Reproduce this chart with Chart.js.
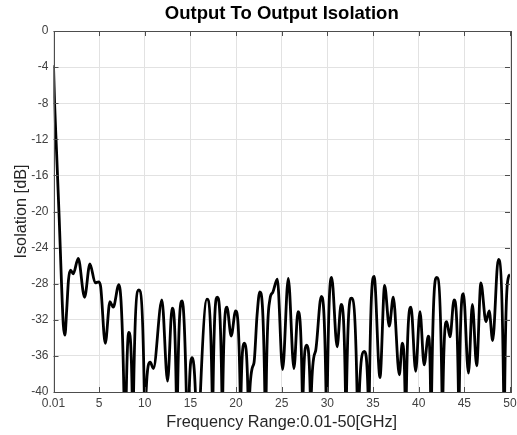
<!DOCTYPE html>
<html>
<head>
<meta charset="utf-8">
<script src="https://cdn.jsdelivr.net/npm/chart.js@4.4.0/dist/chart.umd.min.js"></script>
<style>
  html, body { margin: 0; padding: 0; background: #fff; }
  #wrap { width: 517px; height: 435px; }
</style>
</head>
<body>
<div id="wrap"><canvas id="isoChart" width="517" height="435"></canvas></div>
<script>
// values: frequency (GHz) and isolation (dB)
// -40 entries mark where the trace leaves the frame, -50 the nulls below it
const freqGHz = [
  0.01, 0.06, 0.13, 0.35, 0.64, 0.9, 1.08, 1.26, 1.45, 1.65, 1.88, 2.17, 2.72, 3.41, 4.0,
  4.58, 4.95, 5.17, 5.68, 6.19, 6.55, 7.17, 7.72, 7.85, 7.98, 8.25, 8.62, 8.7, 8.78, 9.36,
  9.95, 10.05, 10.15, 10.6, 10.95, 11.88, 12.5, 13.0, 13.45, 13.52, 13.6, 14.1, 14.55, 14.7, 14.87,
  15.2, 15.55, 15.8, 16.1, 16.82, 17.38, 17.43, 17.48, 17.94, 18.45, 18.5, 18.55, 19.0, 19.47, 19.95,
  20.45, 20.5, 20.55, 20.9, 21.3, 21.4, 21.5, 21.96, 22.3, 22.6, 23.15, 23.22, 23.3, 23.7, 24.0,
  24.52, 25.1, 25.72, 26.34, 26.78, 27.25, 27.3, 27.35, 27.73, 28.12, 28.18, 28.25, 28.7, 29.33, 29.85,
  29.92, 30.0, 30.47, 31.07, 31.5, 31.98, 32.04, 32.1, 32.63, 33.25, 33.35, 33.5, 34.05, 34.45, 34.55,
  34.6, 35.12, 35.76, 36.27, 36.78, 37.22, 37.88, 38.2, 38.5, 38.57, 38.65, 39.16, 39.67, 40.14, 40.6,
  41.05, 41.3, 41.35, 41.42, 41.98, 42.55, 42.6, 42.66, 43.07, 43.43, 43.87, 44.35, 44.4, 44.45, 44.9,
  45.45, 45.88, 46.35, 46.81, 47.37, 47.72, 48.1, 48.72, 49.3, 49.36, 49.42, 49.8, 50
];
const isolationDb = [
  -3.8, -5.6, -8, -13.5, -20.9, -28.3, -32.5, -33.7, -31, -27.6, -26.5, -26.9, -25.2, -29.5, -25.8,
  -27.9, -27.8, -28.3, -34.6, -30.0, -30.6, -28.1, -40, -50, -40, -33.4, -40, -50, -40, -28.7,
  -40, -50, -40, -36.7, -37.4, -29.8, -38.8, -30.7, -40, -50, -40, -29.9, -40, -50, -40,
  -36.2, -40, -50, -40, -29.7, -40, -50, -40, -29.5, -40, -50, -40, -30.6, -33.8, -31.0,
  -40, -50, -40, -34.6, -40, -50, -40, -36.8, -31.5, -28.9, -40, -50, -40, -29.8, -29.0,
  -27.5, -37.5, -27.4, -37.4, -31.1, -40, -50, -40, -34.8, -40, -50, -40, -35.5, -29.4, -40,
  -50, -40, -27.3, -35.0, -30.3, -40, -50, -40, -29.6, -40, -50, -40, -35.5, -40, -50,
  -40, -27.2, -38.4, -28.2, -32.7, -29.5, -38.1, -34.6, -40, -50, -40, -30.6, -37.7, -31.1, -37.0,
  -33.8, -40, -50, -40, -27.3, -40, -50, -40, -32.2, -33.9, -29.8, -40, -50, -40, -29.1,
  -37.9, -30.3, -37.1, -27.9, -32.2, -31.0, -34.3, -25.3, -40, -50, -40, -27.4, -27.0
];
const xTicks = [0.01, 5, 10, 15, 20, 25, 30, 35, 40, 45, 50];
const yTicks = [-40, -36, -32, -28, -24, -20, -16, -12, -8, -4, 0];

const fontFamily = "'Liberation Sans', Arial, sans-serif";
const tickFont = { family: fontFamily, size: 12 };

// MATLAB-like box with inward tick marks
const framePlugin = {
  id: 'frame',
  afterDatasetsDraw(chart) {
    const { ctx, chartArea: a, scales } = chart;
    ctx.save();
    ctx.strokeStyle = '#4d4d4d';
    ctx.lineWidth = 1;
    ctx.beginPath();
    xTicks.forEach(v => {
      const px = Math.round(scales.x.getPixelForValue(v)) + 0.5;
      ctx.moveTo(px, a.top); ctx.lineTo(px, a.top + 5);
      ctx.moveTo(px, a.bottom); ctx.lineTo(px, a.bottom - 5);
    });
    yTicks.forEach(v => {
      const py = Math.round(scales.y.getPixelForValue(v)) + 0.5;
      ctx.moveTo(a.left, py); ctx.lineTo(a.left + 5, py);
      ctx.moveTo(a.right, py); ctx.lineTo(a.right - 5, py);
    });
    ctx.stroke();
    ctx.strokeRect(Math.round(a.left) + 0.5, Math.round(a.top) + 0.5,
      Math.round(a.right - a.left), Math.round(a.bottom - a.top));
    ctx.restore();
  }
};

new Chart(document.getElementById('isoChart'), {
  type: 'line',
  data: {
    datasets: [{
      data: freqGHz.map((f, i) => ({ x: f, y: isolationDb[i] })),
      borderColor: '#000',
      borderWidth: 2.8,
      pointRadius: 0,
      cubicInterpolationMode: 'monotone',
      clip: 0
    }]
  },
  options: {
    responsive: false,
    animation: false,
    layout: { padding: { left: 0, right: 7, top: 0, bottom: 0 } },
    plugins: {
      legend: { display: false },
      tooltip: { enabled: false },
      title: {
        display: true,
        fullSize: false,
        text: 'Output To Output Isolation',
        color: '#000',
        font: { family: fontFamily, size: 18.5, weight: 'bold' },
        padding: { top: 3, bottom: 5.8 }
      }
    },
    scales: {
      x: {
        type: 'linear',
        min: 0.01,
        max: 50,
        afterBuildTicks: s => { s.ticks = xTicks.map(v => ({ value: v })); },
        afterFit: s => { s.height = 43; s.paddingRight = 0; s.paddingLeft = 0; },
        ticks: {
          color: '#404040',
          font: tickFont,
          padding: 4,
          maxRotation: 0,
          autoSkip: false,
          callback: v => String(v)
        },
        grid: { color: '#e2e2e2', drawTicks: false },
        border: { display: false },
        title: {
          display: true,
          text: 'Frequency Range:0.01-50[GHz]',
          color: '#262626',
          font: { family: fontFamily, size: 16.3 },
          padding: { top: 0, bottom: 3 }
        }
      },
      y: {
        min: -40,
        max: 0,
        afterBuildTicks: s => { s.ticks = yTicks.map(v => ({ value: v })); },
        afterFit: s => { s.width = 53.5; s.paddingTop = 0; s.paddingBottom = 0; },
        ticks: {
          color: '#404040',
          font: tickFont,
          padding: 5,
          autoSkip: false,
          callback: v => String(v)
        },
        grid: { color: '#e2e2e2', drawTicks: false },
        border: { display: false },
        title: {
          display: true,
          text: 'Isolation [dB]',
          color: '#262626',
          font: { family: fontFamily, size: 16.3 },
          padding: { top: 12, bottom: 0 }
        }
      }
    }
  },
  plugins: [framePlugin]
});
</script>
</body>
</html>
